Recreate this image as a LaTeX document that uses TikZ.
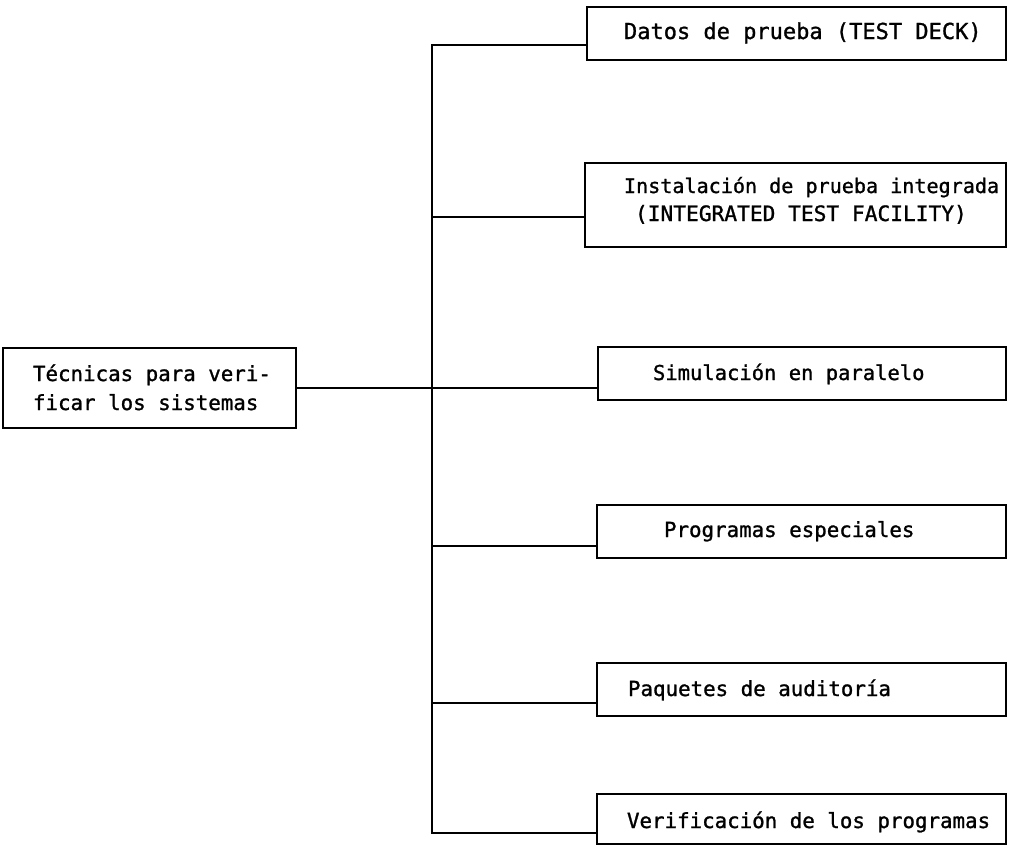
\documentclass[tikz,border=0pt]{standalone}
\usepackage{fontspec}
\newfontfamily\tw[FakeBold=1.2]{DejaVu Sans Mono}
\newcommand\tsz[1]{\tw\fontsize{#1}{#1}\selectfont}
\begin{document}
\begin{tikzpicture}[x=1pt,y=-1pt,
  boxn/.style={draw, line width=2pt, rectangle, anchor=north west, inner sep=0pt, outer sep=0pt},
  txt/.style={anchor=base west, inner sep=0pt, outer sep=0pt, font=\tsz{20.8}},
  conn/.style={line width=2.6pt, line cap=rect}]
\useasboundingbox (0,0) rectangle (1014,847);
% boxes
\node[boxn, minimum width=293pt, minimum height=80pt] (L) at (3,348) {};
\node[boxn, minimum width=419pt, minimum height=53pt] (b1) at (587,7) {};
\node[boxn, minimum width=421pt, minimum height=84pt] (b2) at (585,163) {};
\node[boxn, minimum width=408pt, minimum height=53pt] (b3) at (598,347) {};
\node[boxn, minimum width=409pt, minimum height=53pt] (b4) at (597,505) {};
\node[boxn, minimum width=409pt, minimum height=53pt] (b5) at (597,663) {};
\node[boxn, minimum width=409pt, minimum height=50pt] (b6) at (597,794) {};
% texts
\node[txt] (l1) at (33,381) {Técnicas para veri-};
\node[txt] (l2) at (33,410) {ficar los sistemas};
\node[txt, font=\tsz{22}] (t1) at (624,39) {Datos de prueba (TEST DECK)};
\node[txt, font=\tsz{20.1}] (t2a) at (624,193) {Instalación de prueba integrada};
\node[txt, font=\tsz{21.2}] (t2b) at (635,221) {(INTEGRATED TEST FACILITY)};
\node[txt, font=\tsz{20.5}] (t3) at (653,380) {Simulación en paralelo};
\node[txt] (t4) at (664,537) {Programas especiales};
\node[txt] (t5) at (628,696) {Paquetes de auditoría};
\node[txt] (t6) at (627,828) {Verificación de los programas};
% junctions on the trunk
\coordinate (j1) at (432,45);
\coordinate (j2) at (432,217);
\coordinate (j4) at (432,546);
\coordinate (j5) at (432,703);
\coordinate (j6) at (432,833);
% connectors
\draw[conn] (j1) -- (j6);
\draw[conn] (L.east) -- (L.east -| b3.west);
\draw[conn] (j1) -- (j1 -| b1.west);
\draw[conn] (j2) -- (j2 -| b2.west);
\draw[conn] (j4) -- (j4 -| b4.west);
\draw[conn] (j5) -- (j5 -| b5.west);
\draw[conn] (j6) -- (j6 -| b6.west);
\end{tikzpicture}
\end{document}
